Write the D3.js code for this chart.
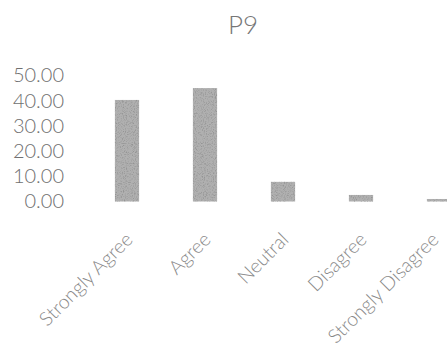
<!DOCTYPE html>
<html>
<head>
<meta charset="utf-8">
<script src="https://cdn.jsdelivr.net/npm/d3@7"></script>
<style>
  html, body { margin: 0; padding: 0; background: #fff; }
  svg { display: block; }
  text { font-family: Lato, "Open Sans", sans-serif; font-weight: 300; }
</style>
</head>
<body>
<script>
const title = "P9";
const categories = ["Strongly Agree", "Agree", "Neutral", "Disagree", "Strongly Disagree"];
const values = [40.3, 45.0, 7.8, 2.6, 1.0];
const yTicks = [0, 10, 20, 30, 40, 50];

const W = 447, H = 358;
const svg = d3.select("body").append("svg").attr("width", W).attr("height", H);

const defs = svg.append("defs");
const f = defs.append("filter").attr("id", "grain").attr("x", 0).attr("y", 0).attr("width", 1).attr("height", 1);
f.append("feTurbulence").attr("type", "fractalNoise").attr("baseFrequency", 0.9).attr("numOctaves", 2).attr("seed", 3).attr("result", "noise");
f.append("feColorMatrix").attr("in", "noise").attr("type", "matrix")
  .attr("values", "0 0 0 0 0.3  0 0 0 0 0.3  0 0 0 0 0.3  -3 0 0 0 1.6").attr("result", "speck");
f.append("feComposite").attr("in", "speck").attr("in2", "SourceGraphic").attr("operator", "in").attr("result", "sp2");
f.append("feMerge").selectAll("feMergeNode").data(["SourceGraphic", "sp2"]).enter()
  .append("feMergeNode").attr("in", d => d);

const x = d3.scaleBand().domain(categories).range([88, 478]).paddingInner(0.69).paddingOuter(0.345);
const y = d3.scaleLinear().domain([0, 50]).range([201.5, 75.5]);

svg.append("text")
  .attr("x", 243).attr("y", 34)
  .attr("text-anchor", "middle")
  .attr("font-size", 26)
  .attr("fill", "#777")
  .text(title);

const yAxis = d3.axisLeft(y).tickValues(yTicks).tickFormat(d3.format(".2f")).tickSize(0).tickPadding(0);
const gy = svg.append("g").attr("transform", "translate(64,0)").call(yAxis);
gy.select(".domain").remove();
gy.selectAll("text").attr("font-size", 20).attr("fill", "#707070")
  .style("font-family", "Lato, 'Open Sans', sans-serif").style("font-weight", 300);

svg.append("g").selectAll("rect").data(values).enter().append("rect")
  .attr("x", (d, i) => x(categories[i]))
  .attr("width", x.bandwidth())
  .attr("y", d => y(d))
  .attr("height", d => y(0) - y(d))
  .attr("fill", "#b0b0b0")
  .attr("filter", "url(#grain)");

const xAxis = d3.axisBottom(x).tickSize(0).tickPadding(0);
const gx = svg.append("g").attr("transform", "translate(0,236)").call(xAxis);
gx.select(".domain").remove();
gx.selectAll("text")
  .attr("font-size", 19.5).attr("fill", "#888")
  .style("font-family", "Lato, 'Open Sans', sans-serif").style("font-weight", 300)
  .attr("text-anchor", "end")
  .attr("dy", "0.35em")
  .attr("y", 0)
  .attr("transform", (d, i) => i === categories.length - 1 ? "translate(-4,0) rotate(-45)" : "translate(2,0) rotate(-45)");
</script>
</body>
</html>
